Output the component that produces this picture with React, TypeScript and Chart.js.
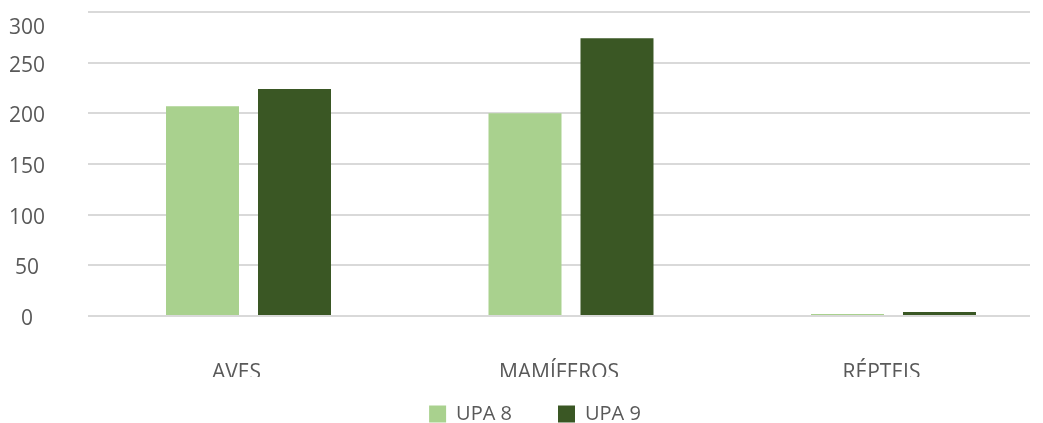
import React, { useEffect, useRef } from "react";
import { Chart, registerables } from "chart.js";

Chart.register(...registerables);

const categories = ["AVES", "MAMÍFEROS", "RÉPTEIS"];
const upa8 = [207, 200, 2];
const upa9 = [224, 274, 4];
const seriesNames = ["UPA 8", "UPA 9"];
const yTicks = [0, 50, 100, 150, 200, 250, 300];

const FONT = "'Open Sans', sans-serif";
const TEXT = "#595959";

// widen the label clipping boxes after layout (x labels cut like the reference)
const labelBoxes = {
  id: "labelBoxes",
  afterLayout(chart: any) {
    const x = chart.scales.x;
    const y = chart.scales.y;
    x.bottom = x.top + 61;
    y.left = 0;
  },
};

export default function App() {
  const ref = useRef<HTMLCanvasElement | null>(null);
  useEffect(() => {
    document.body.style.margin = "0";
    const topTick = yTicks[yTicks.length - 1];
    const chart = new Chart(ref.current as HTMLCanvasElement, {
      type: "bar",
      data: {
        labels: categories,
        datasets: [
          { label: seriesNames[0], data: upa8, backgroundColor: "#A9D18E", categoryPercentage: 0.5705, barPercentage: 0.7935 },
          { label: seriesNames[1], data: upa9, backgroundColor: "#3A5724", categoryPercentage: 0.5705, barPercentage: 0.7935 },
        ],
      },
      options: {
        animation: false,
        responsive: false,
        maintainAspectRatio: false,
        layout: { padding: { left: 40, right: 13, top: 0, bottom: 0 } },
        plugins: {
          tooltip: { enabled: false },
          legend: {
            position: "bottom",
            labels: {
              boxWidth: 17,
              boxHeight: 17,
              padding: 46,
              color: TEXT,
              font: { family: FONT, size: 20 },
            },
          },
        },
        scales: {
          x: {
            grid: { display: false, drawTicks: false },
            border: { display: false },
            ticks: { color: TEXT, font: { family: FONT, size: 21 }, padding: 44, maxRotation: 0, labelOffset: -12, autoSkip: false },
            afterBuildTicks: (s: any) => { s._startValue = -0.4977; s._valueRange = 2.921; },
            afterFit: (s: any) => { s.height = 42; },
          },
          y: {
            min: 0,
            max: 300,
            afterBuildTicks: (s: any) => { s.ticks = yTicks.map((v) => ({ value: v })); },
            grid: { color: "#D9D9D9", lineWidth: 2, drawTicks: false },
            border: { display: false },
            ticks: {
              color: TEXT,
              font: { family: FONT, size: 21 },
              padding: 43,
              crossAlign: "center",
              labelOffset: 3,
              autoSkip: false,
              callback: (v: any) => (v === topTick ? ["", String(v)] : String(v)),
            },
            afterFit: (s: any) => { s.width = 48; s.paddingTop = 12; s.paddingBottom = 12; },
          },
        },
      },
      plugins: [labelBoxes],
    });
    return () => chart.destroy();
  }, []);
  return (
    <div style={{ width: 1043, height: 423, overflow: "hidden", position: "relative" }}>
      <canvas ref={ref} width={1043} height={434} style={{ display: "block" }} />
    </div>
  );
}
